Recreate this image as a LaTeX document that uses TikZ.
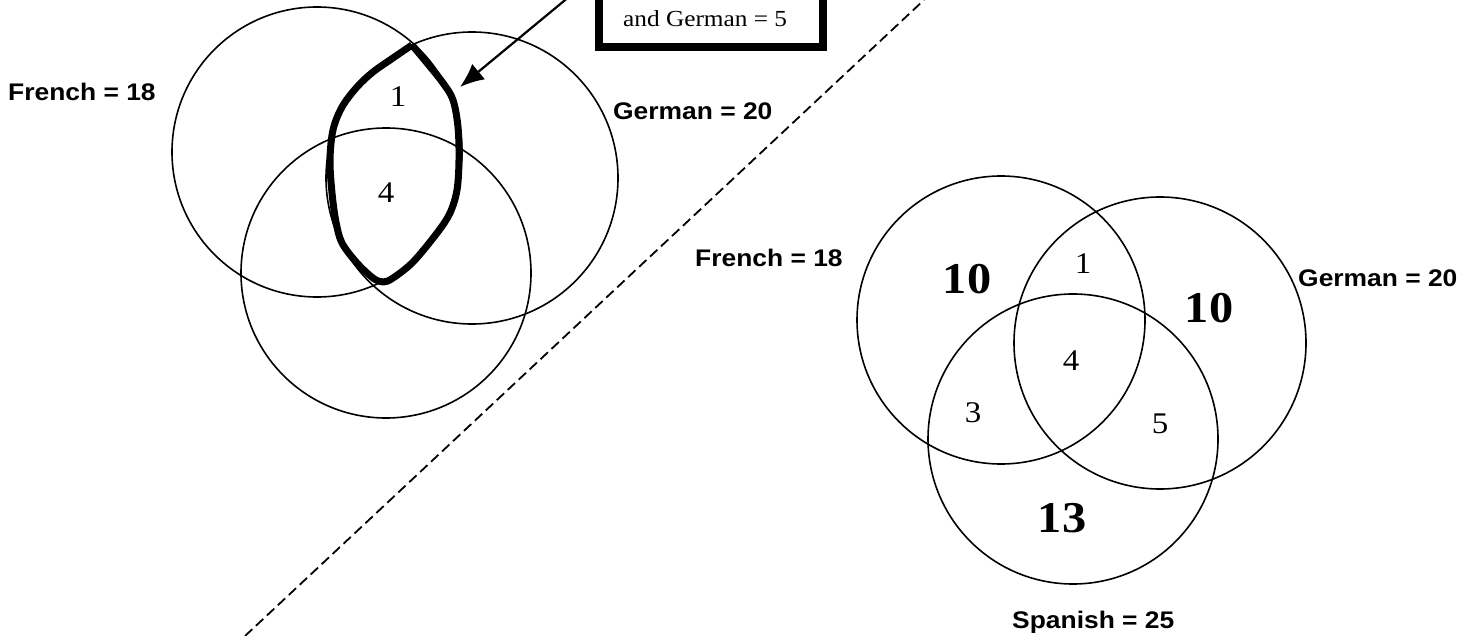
\documentclass[tikz,border=0pt]{standalone}
\usepackage{fontspec}
\setmainfont{Liberation Serif}[FakeStretch=1.1]
\newfontfamily\labelfont{Liberation Sans}[FakeStretch=1.1]
\usetikzlibrary{arrows.meta}

\begin{document}
\begin{tikzpicture}[x=1pt, y=-1pt,
    ring/.style={line width=1.6},
    lang/.style={inner sep=0, anchor=base west, font=\labelfont\bfseries\fontsize{24}{27}\selectfont},
    count/.style={inner sep=0, anchor=base, font=\fontsize{30}{34}\selectfont},
    bigcount/.style={inner sep=0, anchor=base, font=\bfseries\fontsize{44}{48}\selectfont}]
    \useasboundingbox (0,0) rectangle (1471,636);
    \clip (0,0) rectangle (1471,636);
    % left picture
    \coordinate (lf) at (317,152);
    \coordinate (lg) at (472,178);
    \coordinate (ls) at (386,273);
    \draw[ring] (lf) circle[radius=145];
    \draw[ring] (lg) circle[radius=146];
    \draw[ring] (ls) circle[radius=145];
    \draw[line width=7, line join=round, smooth, tension=0.55] plot coordinates {
        (412,45) (393,58) (373,72) (357,87) (342,107) (333,130) (330,160)
        (332,193) (336,222) (342,243) (357,263) (373,278) (383,282)
        (393,278) (413,262) (437,233) (450,213) (457,190) (459,160)
        (458,127) (453,100) (443,83) (427,63) (412,45)};
    \node[lang] (lfrench) at (8,101) {French = 18};
    \node[lang] (lgerman) at (613,120) {German = 20};
    \node[count] (lone) at (398,107) {1};
    \node[count] (lfour) at (386,203) {4};
    % note box
    \node[draw, line width=8, outer sep=0, minimum width=224, minimum height=200,
        anchor=south west] (notebox) at (599,47) {};
    \node[inner sep=0, anchor=base west, font=\fontsize{23}{26}\selectfont] (notetext) at (623,27) {and German = 5};
    \coordinate (arrowfrom) at (599,-28);
    \coordinate (lensedge) at (460,87);
    \draw[line width=2.2, -{Latex[length=24, width=20]}] (arrowfrom) -- (lensedge);
    % dividing line
    \coordinate (cutlow) at (245,636);
    \coordinate (cuthigh) at (924,0);
    \draw[line width=1.8, dash pattern=on 10 off 5] (cutlow) -- (cuthigh);
    % right picture
    \coordinate (rf) at (1001,320);
    \coordinate (rg) at (1160,343);
    \coordinate (rs) at (1073,439);
    \draw[ring] (rf) circle[radius=144];
    \draw[ring] (rg) circle[radius=146];
    \draw[ring] (rs) circle[radius=145];
    \node[lang] (rfrench) at (695,266) {French = 18};
    \node[lang] (rgerman) at (1298,286) {German = 20};
    \node[lang] (rspanish) at (1012,628) {Spanish = 25};
    \node[bigcount] (onlyfrench) at (967,293) {10};
    \node[bigcount] (onlygerman) at (1209,322) {10};
    \node[bigcount] (onlyspanish) at (1062,532) {13};
    \node[count] (fg) at (1083,273) {1};
    \node[count] (fgs) at (1071,370) {4};
    \node[count] (fs) at (973,422) {3};
    \node[count] (gs) at (1160,433) {5};
\end{tikzpicture}
\end{document}
